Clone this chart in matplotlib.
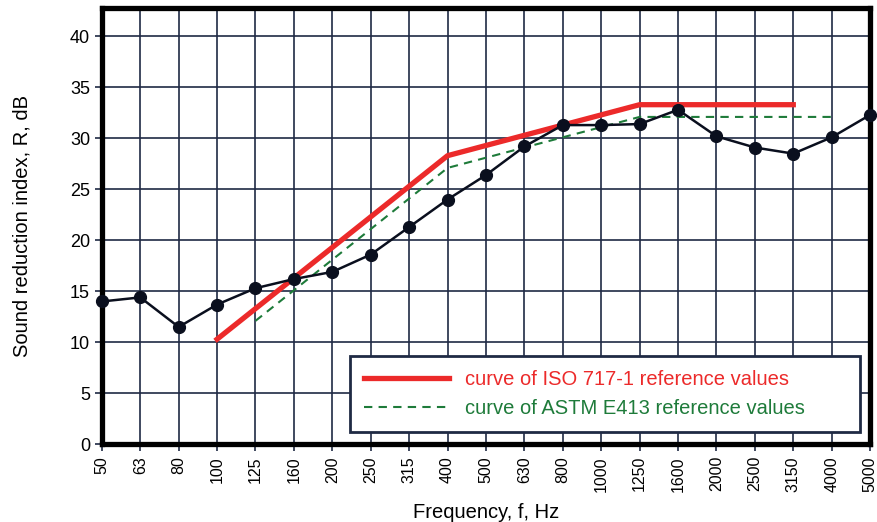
import matplotlib
matplotlib.use("Agg")
import matplotlib.pyplot as plt

plt.rcParams["font.family"] = ["Liberation Sans", "DejaVu Sans"]

# ====================== 数据 ======================
freqs = ["50", "63", "80", "100", "125", "160", "200", "250", "315", "400", "500",
         "630", "800", "1000", "1250", "1600", "2000", "2500", "3150", "4000", "5000"]
measured = [14.0, 14.4, 11.5, 13.7, 15.3, 16.2, 16.9, 18.6, 21.3, 24.0, 26.4,
            29.2, 31.3, 31.3, 31.4, 32.8, 30.2, 29.1, 28.5, 30.1, 32.3]
# ISO 717-1 参考曲线 (100 Hz ~ 3150 Hz)
iso_freqs = freqs[3:19]
iso_vals = [10.3, 13.3, 16.3, 19.3, 22.3, 25.3, 28.3, 29.3, 30.3, 31.3, 32.3,
            33.3, 33.3, 33.3, 33.3, 33.3]
# ASTM E413 参考曲线 (125 Hz ~ 4000 Hz)
astm_freqs = freqs[4:20]
astm_vals = [12.1, 15.1, 18.1, 21.1, 24.1, 27.1, 28.1, 29.1, 30.1, 31.1, 32.1,
             32.1, 32.1, 32.1, 32.1, 32.1]

grid_col = "#1f2a44"
red = "#ec2a2a"
green = "#1e7b3a"

fig = plt.figure(figsize=(8.78, 5.22), dpi=100)
ax = fig.add_axes([0.116, 0.149, 0.875, 0.836])

idx = {f: i for i, f in enumerate(freqs)}
ax.plot([idx[f] for f in astm_freqs], astm_vals, "--", color=green, lw=1.5,
        dashes=(4, 3), label="curve of ASTM E413 reference values", zorder=3)
ax.plot([idx[f] for f in iso_freqs], iso_vals, "-", color=red, lw=3.8,
        label="curve of ISO 717-1 reference values", zorder=4)
ax.plot(range(len(freqs)), measured, "-o", color="#0a0f1e", lw=1.8, ms=8.5, zorder=5,
        clip_on=False)

ax.set_xlim(0, len(freqs) - 1)
ax.set_ylim(0, 42.8)
ax.set_xticks(range(len(freqs)))
ax.set_xticklabels(freqs, rotation=90, fontsize=11.5)
ax.set_yticks(range(0, 45, 5))
ax.tick_params(axis="y", labelsize=13, length=5, color=grid_col, width=1.2)
ax.tick_params(axis="x", length=5, color=grid_col, width=1.2)
ax.grid(True, color=grid_col, lw=1.2, zorder=1)
ax.set_axisbelow(True)
for s in ax.spines.values():
    s.set_linewidth(3.8)
    s.set_color("black")

ax.set_xlabel("Frequency, f, Hz", fontsize=14.5, labelpad=8)
ax.set_ylabel("Sound reduction index, R, dB", fontsize=14.5, labelpad=28)

handles, labels = ax.get_legend_handles_labels()
leg = ax.legend(handles[::-1], labels[::-1], loc="lower left", mode="expand",
                bbox_to_anchor=(0.323, 0.028, 0.664, 0.188), borderaxespad=0,
                fontsize=14.5, handlelength=4.2, handletextpad=0.8, borderpad=0.7,
                labelspacing=0.5, fancybox=False, framealpha=1)
leg.get_frame().set_edgecolor(grid_col)
leg.get_frame().set_linewidth(2)
leg.set_zorder(10)
for t, c in zip(leg.get_texts(), [red, green]):
    t.set_color(c)

fig.savefig("out.png", dpi=100)
